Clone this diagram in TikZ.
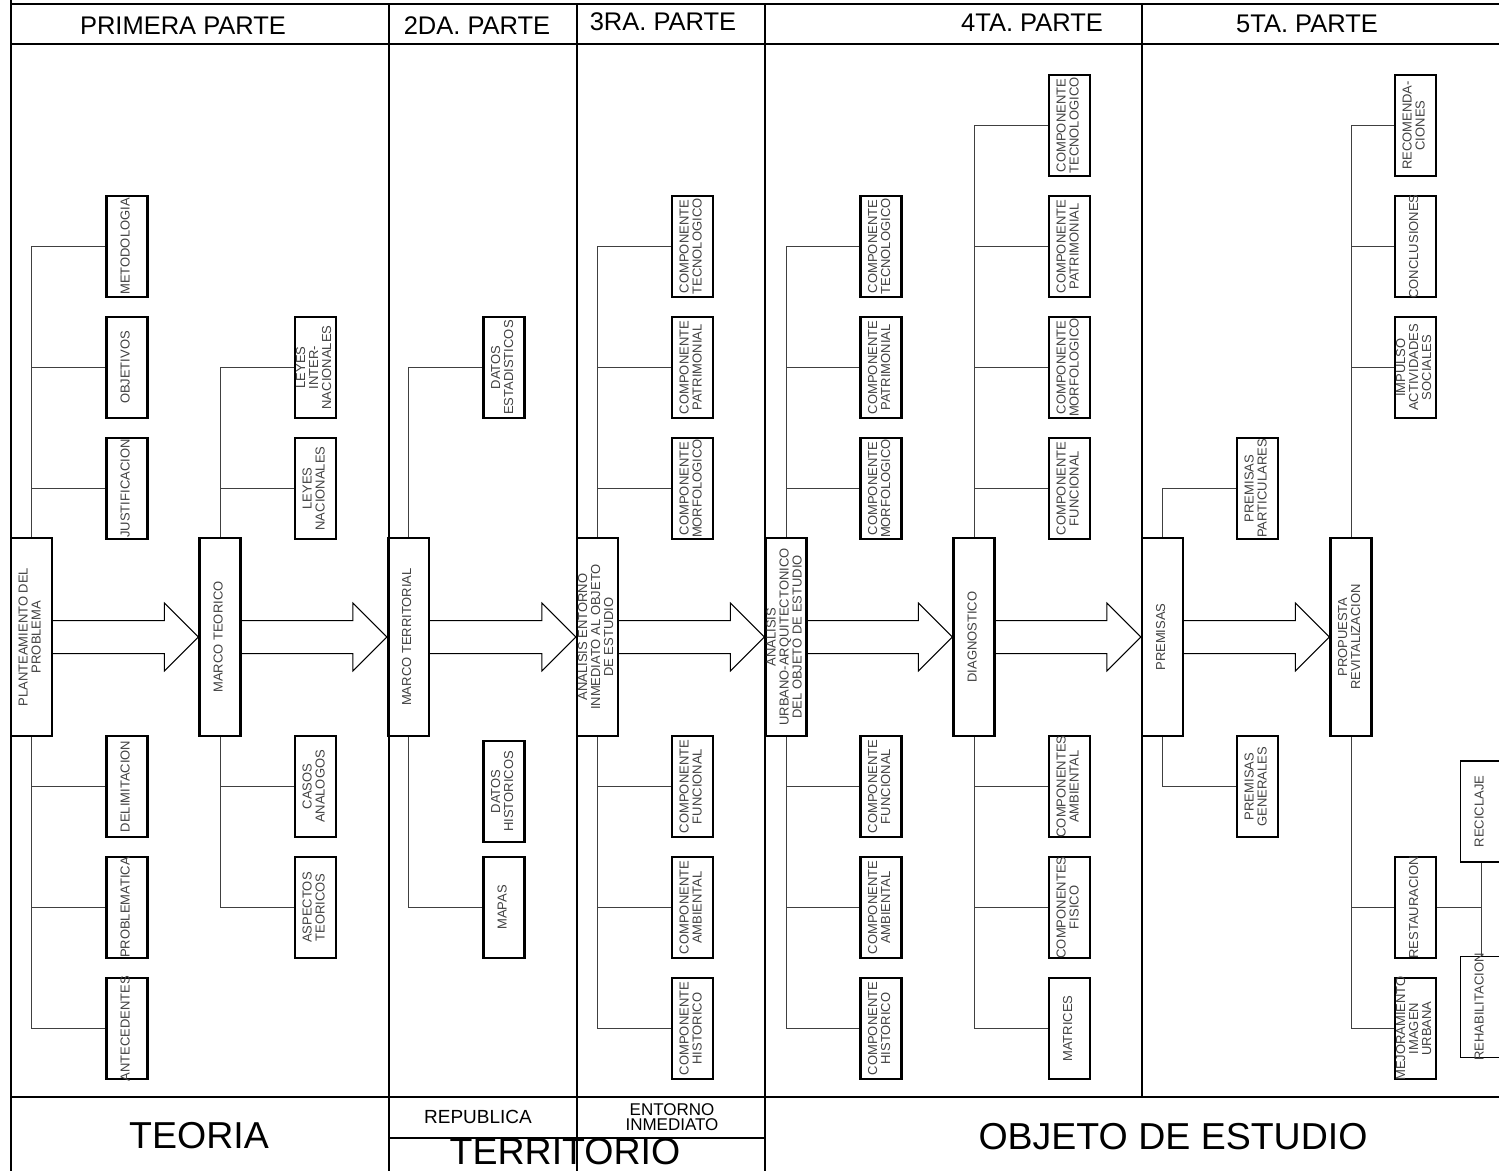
\documentclass[tikz,border=0pt]{standalone}
\usepackage{fontspec}
\setmainfont{Liberation Sans}
\usepackage{graphicx}
\usetikzlibrary{calc}

% texto girado dentro de las cajas
\newcommand{\rotado}[1]{\rotatebox{90}{\makebox[0pt]{\begin{tabular}{@{}c@{}}#1\end{tabular}}}}

% flecha gruesa de una etapa a la siguiente
\newcommand{\pasoflecha}[2]{%
  \draw[flechagrande]
    ($(#1.east)+(0,-16.5)$) -- ($(#2.west)+(-34,-16.5)$) -- ($(#2.west)+(-34,-34)$)
    -- (#2.west) -- ($(#2.west)+(-34,34)$) -- ($(#2.west)+(-34,16.5)$)
    -- ($(#1.east)+(0,16.5)$);}

\begin{document}
\begin{tikzpicture}[x=1pt, y=-1pt,
    marco/.style={line width=2.5pt},
    etapa/.style={draw, line width=2.2pt, minimum width=41, minimum height=198,
      inner sep=0pt, font=\fontsize{13}{13}\selectfont, text=black!75},
    hoja/.style={etapa, minimum height=101},
    hojafina/.style={hoja, line width=1.1pt},
    rama/.style={line width=1pt, black!75},
    flechagrande/.style={line width=1pt},
    titulo/.style={font=\fontsize{25.5}{26}\selectfont},
    pie/.style={font=\fontsize{37.5}{38}\selectfont}]

  \useasboundingbox (0,0) rectangle (1499,1171);

  %% ===== MARCO DE LA LAMINA =====
  \draw[marco] (11,0) -- (11,1171);
  \draw[marco] (11,4) -- (1499,4);
  \draw[marco] (11,44) -- (1499,44);
  \draw[marco] (11,1097) -- (1499,1097);
  \draw[marco] (389,4) -- (389,1171);
  \draw[marco] (577,4) -- (577,1171);
  \draw[marco] (765,4) -- (765,1171);
  \draw[marco] (1142,4) -- (1142,1097);
  \draw[marco] (389,1138) -- (765,1138);

  % Titulos de las partes
  \node[titulo] (parte1) at (183,26) {PRIMERA PARTE};
  \node[titulo] (parte2) at (477,26) {2DA. PARTE};
  \node[titulo] (parte3) at (663,22) {3RA. PARTE};
  \node[titulo] (parte4) at (1032,22.5) {4TA. PARTE};
  \node[titulo] (parte5) at (1307,23.5) {5TA. PARTE};

  % Pie de la lamina
  \node[pie] (teoria) at (199,1136) {TEORIA};
  \node[font=\fontsize{19}{19}\selectfont] (republica) at (478,1117) {REPUBLICA};
  \node[font=\fontsize{17}{14.5}\selectfont, align=center] (entorno) at (672,1117) {ENTORNO\\INMEDIATO};
  \node[pie, anchor=base, inner sep=0pt] (territorio) at (565,1164) {TERRITORIO};
  \node[pie] (objeto) at (1173,1137) {OBJETO DE ESTUDIO};

  %% ===== PRIMERA PARTE =====
  \node[etapa] (plan) at (31.5,637) {\rotado{PLANTEAMIENTO DEL\\PROBLEMA}};
  \node[hoja] (metod) at (127,246.5) {\rotado{METODOLOGIA}};
  \node[hoja] (objet) at (127,367.5) {\rotado{OBJETIVOS}};
  \node[hoja] (justif) at (127,488.5) {\rotado{JUSTIFICACION}};
  \node[hoja] (delim) at (127,786.5) {\rotado{DELIMITACION}};
  \node[hoja] (probl) at (127,907.5) {\rotado{PROBLEMATICA}};
  \node[hoja] (antec) at (127,1028.5) {\rotado{ANTECEDENTES}};

  \draw[rama] (plan.north) |- (metod.west);
  \draw[rama] (plan.north) |- (objet.west);
  \draw[rama] (plan.north) |- (justif.west);
  \draw[rama] (plan.south) |- (delim.west);
  \draw[rama] (plan.south) |- (probl.west);
  \draw[rama] (plan.south) |- (antec.west);

  \node[etapa] (mteo) at (220,637) {\rotado{MARCO TEORICO}};
  \node[hoja] (leyint) at (315.5,367.5) {\rotado{LEYES\\INTER-\\NACIONALES}};
  \node[hoja] (leynac) at (315.5,488.5) {\rotado{LEYES\\NACIONALES}};
  \node[hoja] (casos) at (315.5,786.5) {\rotado{CASOS\\ANALOGOS}};
  \node[hoja] (aspec) at (315.5,907.5) {\rotado{ASPECTOS\\TEORICOS}};

  \draw[rama] (mteo.north) |- (leyint.west);
  \draw[rama] (mteo.north) |- (leynac.west);
  \draw[rama] (mteo.south) |- (casos.west);
  \draw[rama] (mteo.south) |- (aspec.west);

  %% ===== SEGUNDA PARTE =====
  \node[etapa] (mterr) at (408.5,637) {\rotado{MARCO TERRITORIAL}};
  \node[hoja] (datest) at (504,367.5) {\rotado{DATOS\\ESTADISTICOS}};
  \node[hoja] (dathis) at (504,791.5) {\rotado{DATOS\\HISTORICOS}};
  \node[hoja] (mapas) at (504,907.5) {\rotado{MAPAS}};

  \draw[rama] (mterr.north) |- (datest.west);
  \draw[rama] (mterr.south) |- (mapas.west);

  %% ===== TERCERA PARTE =====
  \node[etapa] (aent) at (597.5,637) {\rotado{ANALISIS ENTORNO\\INMEDIATO AL OBJETO\\DE ESTUDIO}};
  \node[hoja] (etec) at (692.5,246.5) {\rotado{COMPONENTE\\TECNOLOGICO}};
  \node[hoja] (epat) at (692.5,367.5) {\rotado{COMPONENTE\\PATRIMONIAL}};
  \node[hoja] (emor) at (692.5,488.5) {\rotado{COMPONENTE\\MORFOLOGICO}};
  \node[hoja] (efun) at (692.5,786.5) {\rotado{COMPONENTE\\FUNCIONAL}};
  \node[hoja] (eamb) at (692.5,907.5) {\rotado{COMPONENTE\\AMBIENTAL}};
  \node[hoja] (ehis) at (692.5,1028.5) {\rotado{COMPONENTE\\HISTORICO}};

  \draw[rama] (aent.north) |- (etec.west);
  \draw[rama] (aent.north) |- (epat.west);
  \draw[rama] (aent.north) |- (emor.west);
  \draw[rama] (aent.south) |- (efun.west);
  \draw[rama] (aent.south) |- (eamb.west);
  \draw[rama] (aent.south) |- (ehis.west);

  %% ===== CUARTA PARTE =====
  \node[etapa] (aurb) at (786,637) {\rotado{ANALISIS\\URBANO-ARQUITECTONICO\\DEL OBJETO DE ESTUDIO}};
  \node[hoja] (utec) at (881,246.5) {\rotado{COMPONENTE\\TECNOLOGICO}};
  \node[hoja] (upat) at (881,367.5) {\rotado{COMPONENTE\\PATRIMONIAL}};
  \node[hoja] (umor) at (881,488.5) {\rotado{COMPONENTE\\MORFOLOGICO}};
  \node[hoja] (ufun) at (881,786.5) {\rotado{COMPONENTE\\FUNCIONAL}};
  \node[hoja] (uamb) at (881,907.5) {\rotado{COMPONENTE\\AMBIENTAL}};
  \node[hoja] (uhis) at (881,1028.5) {\rotado{COMPONENTE\\HISTORICO}};

  \draw[rama] (aurb.north) |- (utec.west);
  \draw[rama] (aurb.north) |- (upat.west);
  \draw[rama] (aurb.north) |- (umor.west);
  \draw[rama] (aurb.south) |- (ufun.west);
  \draw[rama] (aurb.south) |- (uamb.west);
  \draw[rama] (aurb.south) |- (uhis.west);

  \node[etapa] (diag) at (974,637) {\rotado{DIAGNOSTICO}};
  \node[hoja] (dtec) at (1069.5,125.5) {\rotado{COMPONENTE\\TECNOLOGICO}};
  \node[hoja] (dpat) at (1069.5,246.5) {\rotado{COMPONENTE\\PATRIMONIAL}};
  \node[hoja] (dmor) at (1069.5,367.5) {\rotado{COMPONENTE\\MORFOLOGICO}};
  \node[hoja] (dfun) at (1069.5,488.5) {\rotado{COMPONENTE\\FUNCIONAL}};
  \node[hoja] (damb) at (1069.5,786.5) {\rotado{COMPONENTES\\AMBIENTAL}};
  \node[hoja] (dfis) at (1069.5,907.5) {\rotado{COMPONENTES\\FISICO}};
  \node[hoja] (dmat) at (1069.5,1028.5) {\rotado{MATRICES}};

  \draw[rama] (diag.north) |- (dtec.west);
  \draw[rama] (diag.north) |- (dpat.west);
  \draw[rama] (diag.north) |- (dmor.west);
  \draw[rama] (diag.north) |- (dfun.west);
  \draw[rama] (diag.south) |- (damb.west);
  \draw[rama] (diag.south) |- (dfis.west);
  \draw[rama] (diag.south) |- (dmat.west);

  %% ===== QUINTA PARTE =====
  \node[etapa] (prem) at (1162.5,637) {\rotado{PREMISAS}};
  \node[hoja] (ppart) at (1257.5,488.5) {\rotado{PREMISAS\\PARTICULARES}};
  \node[hoja] (pgen) at (1257.5,786.5) {\rotado{PREMISAS\\GENERALES}};

  \draw[rama] (prem.north) |- (ppart.west);
  \draw[rama] (prem.south) |- (pgen.west);

  \node[etapa] (prop) at (1351,637) {\rotado{PROPUESTA\\REVITALIZACION}};
  \node[hoja] (recom) at (1415.5,125.5) {\rotado{RECOMENDA-\\CIONES}};
  \node[hoja] (concl) at (1415.5,246.5) {\rotado{CONCLUSIONES}};
  \node[hoja] (impul) at (1415.5,367.5) {\rotado{IMPULSO\\ACTIVIDADES\\SOCIALES}};
  \node[hoja] (resta) at (1415.5,907.5) {\rotado{RESTAURACION}};
  \node[hoja] (mejor) at (1415.5,1028.5) {\rotado{MEJORAMIENTO\\IMAGEN\\URBANA}};
  \node[hojafina] (recic) at (1481,811.5) {\rotado{RECICLAJE}};
  \node[hojafina] (rehab) at (1481,1007) {\rotado{REHABILITACION}};

  \draw[rama] (prop.north) |- (recom.west);
  \draw[rama] (prop.north) |- (concl.west);
  \draw[rama] (prop.north) |- (impul.west);
  \draw[rama] (prop.south) |- (resta.west);
  \draw[rama] (prop.south) |- (mejor.west);
  \draw[rama] (recic.south) -- (rehab.north);
  \draw[rama] (resta.east) -- (resta.east -| recic.south);

  %% ===== FLECHAS ENTRE ETAPAS =====
  \pasoflecha{plan}{mteo}
  \pasoflecha{mteo}{mterr}
  \pasoflecha{mterr}{aent}
  \pasoflecha{aent}{aurb}
  \pasoflecha{aurb}{diag}
  \pasoflecha{diag}{prem}
  \pasoflecha{prem}{prop}

\end{tikzpicture}
\end{document}
